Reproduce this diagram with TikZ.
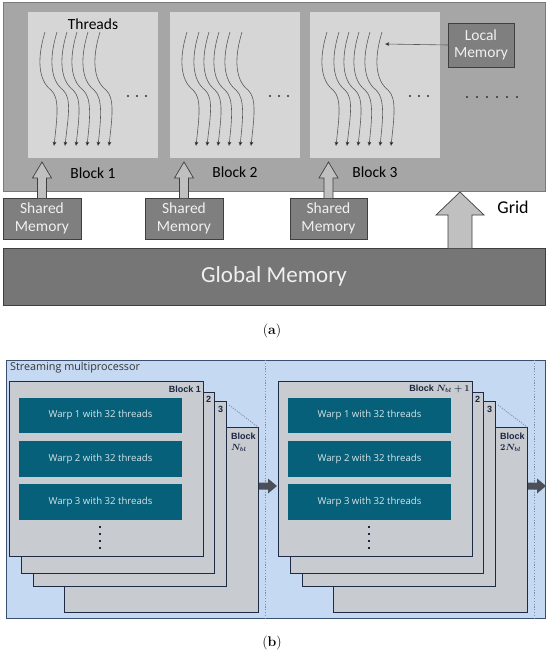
\documentclass[tikz,border=0pt]{standalone}
\usepackage{fontspec}
\usepackage{bm}
\usetikzlibrary{arrows.meta}
\newfontfamily\carl{Carlito}
\newfontfamily\osans{Open Sans}
\newfontfamily\arialf{Liberation Sans}
\definecolor{gridfill}{HTML}{A6A6A6}
\definecolor{gridline}{HTML}{7A7A7A}
\definecolor{blockfill}{HTML}{D6D6D6}
\definecolor{memfill}{HTML}{7F7F7F}
\definecolor{memline}{HTML}{3F3F3F}
\definecolor{globfill}{HTML}{767676}
\definecolor{arrfill}{HTML}{C0C0C0}
\definecolor{threadc}{HTML}{5A5A5A}
\definecolor{memtext}{HTML}{F0F0F0}
\definecolor{smbg}{HTML}{C6D9F3}
\definecolor{smline}{HTML}{3A5070}
\definecolor{blkfill}{HTML}{C8CBD0}
\definecolor{blkline}{HTML}{1E2B45}
\definecolor{warpfill}{HTML}{06607A}
\definecolor{warptext}{HTML}{D8E4E8}
\definecolor{navy}{HTML}{1A2540}
\definecolor{dotline}{HTML}{8090A8}
\definecolor{flowarr}{HTML}{4B5058}
\begin{document}
\begin{tikzpicture}[x=1pt,y=-1pt,
  box/.style={inner sep=0pt, outer sep=0pt, anchor=north west},
  gridbox/.style={box, fill=gridfill, draw=gridline, line width=1pt},
  blockbox/.style={box, fill=blockfill},
  membox/.style={box, fill=memfill, draw=memline, line width=0.8pt, text=memtext, align=center, font=\carl\fontsize{15.5}{17.5}\selectfont},
  lbl/.style={font=\carl\fontsize{15.5}{17}\selectfont, text=black, inner sep=0pt},
  threadline/.style={draw=threadc, line width=0.6pt, -{Triangle[length=4pt,width=3.6pt,fill=black]}},
  harrow/.style={fill=arrfill, draw=memline, line width=0.7pt, line join=miter},
  smbox/.style={box, fill=smbg, draw=smline, line width=0.8pt},
  blk/.style={box, fill=blkfill, draw=blkline, line width=1pt},
  warp/.style={box, fill=warpfill, text=warptext, font=\osans\fontsize{9.6}{11}\selectfont},
  blab/.style={font=\arialf\bfseries\fontsize{9}{10}\selectfont, text=navy, inner sep=0pt},
  flow/.style={fill=flowarr, draw=none},
  vdots/.style={draw=dotline, line width=0.8pt, dash pattern=on 1.2pt off 1.6pt}
]
\useasboundingbox (0,0) rectangle (550,655);

% ================= (a) =================
\node[gridbox, minimum width=542pt, minimum height=188pt] (grid) at (3,3) {};
\node[blockbox, minimum width=130pt, minimum height=146pt] (ba1) at (28,12) {};
\node[blockbox, minimum width=130pt, minimum height=146pt] (ba2) at (170,12) {};
\node[blockbox, minimum width=130pt, minimum height=146pt] (ba3) at (310,12) {};

\node[lbl] (threads) at (93,24) {Threads};
\foreach \L in {28,170,310}{
  \foreach \s/\e in {17/26,29/37,39/48,49/59,60/70,72/81}{
    \draw[threadline] (\L+\s,32) .. controls (\L+\s-8,58) and (\L+\s-7,80) .. (\L+\s+6,90)
       .. controls (\L+\s+15,98) and (\L+\e+3,118) .. (\L+\e,146);
  }
  \foreach \d in {100,109,118}{
    \fill[black!80] (\L+\d,96) circle (1.2pt);
  }
}
\foreach \d in {467,477,487,497,507,517}{
  \fill[black!80] (\d,97) circle (1.2pt);
}

\node[lbl] (lb1) at (93,173) {Block 1};
\node[lbl] (lb2) at (235,172) {Block 2};
\node[lbl] (lb3) at (375,172) {Block 3};

\node[membox, minimum width=66pt, minimum height=44pt] (local) at (448,23) {Local\\Memory};
\coordinate (lmtip) at (385,44);
\draw[draw=threadc, line width=0.6pt, -{Triangle[length=4pt,width=3.6pt,fill=black]}] (local.west) -- (lmtip);

\node[membox, minimum width=78pt, minimum height=41pt] (sm1) at (3,198) {Shared\\Memory};
\node[membox, minimum width=78pt, minimum height=41pt] (sm2) at (145,198) {Shared\\Memory};
\node[membox, minimum width=77pt, minimum height=41pt] (sm3) at (290,198) {Shared\\Memory};

\foreach \n in {sm1,sm2,sm3}{
  \begin{scope}[shift={(\n.north)}]
    \draw[harrow] (-4.5,0) -- (-4.5,-20) -- (-9.5,-20) -- (0,-36) -- (9.5,-20) -- (4.5,-20) -- (4.5,0);
  \end{scope}
}

\node[box, fill=globfill, draw=memline, line width=0.8pt, minimum width=542pt, minimum height=57pt,
      text=memtext, font=\carl\fontsize{23}{26}\selectfont] (glob) at (3,248) {Global Memory};
\coordinate (gridbase) at (460,248);
\begin{scope}[shift={(gridbase)}]
  \draw[harrow] (-12,0) -- (-12,-33) -- (-24,-33) -- (0,-56) -- (24,-33) -- (12,-33) -- (12,0);
\end{scope}
\node[lbl, font=\carl\fontsize{18}{20}\selectfont] (gridlbl) at (513,207) {Grid};

\node[font=\fontsize{14}{16}\selectfont, inner sep=0pt] (capa) at (272,331) {(\textbf{a})};

% ================= (b) =================
\node[smbox, minimum width=539pt, minimum height=258pt] (sm) at (6,360) {};
\node[anchor=west, inner sep=0pt, font=\osans\fontsize{10.8}{12}\selectfont, text=black!80] (smlbl) at (10,368) {Streaming multiprocessor};

\foreach \o/\g in {0/1,269/2}{
  \node[blk, minimum width=194pt, minimum height=185pt] (bn\g) at (64+\o,427) {};
  \node[blk, minimum width=193pt, minimum height=185pt] (bt\g) at (33+\o,401) {};
  \node[blk, minimum width=193pt, minimum height=181pt] (bs\g) at (21+\o,392) {};
  \node[blk, minimum width=194pt, minimum height=175pt] (bf\g) at (9+\o,381) {};
  \node[warp, minimum width=163pt, minimum height=35pt] (w1\g) at (19+\o,398) {Warp 1 with 32 threads};
  \node[warp, minimum width=163pt, minimum height=36pt] (w2\g) at (19+\o,441) {Warp 2 with 32 threads};
  \node[warp, minimum width=163pt, minimum height=36pt] (w3\g) at (19+\o,484) {Warp 3 with 32 threads};
  \foreach \y in {527,534,541,548}{
    \fill[navy] (100+\o-1.3,\y-1.3) rectangle (100+\o+1.3,\y+1.3);
  }
  \node[blab] (l2\g) at (208.5+\o,399) {2};
  \node[blab] (l3\g) at (220.5+\o,409) {3};
  \coordinate (dg\g) at (229+\o,405);
  \draw[dotline, line width=0.8pt, dash pattern=on 1.2pt off 1.2pt] (dg\g) -- (bn\g.north east);
  \coordinate (vt\g) at (265+\o,360);
  \coordinate (vb\g) at (265+\o,618);
  \draw[vdots] (vt\g) -- (vb\g);
  \begin{scope}[shift={(259+\o,486)}]
    \fill[flow] (0,-3.5) -- (9,-3.5) -- (9,-7.5) -- (18,0) -- (9,7.5) -- (9,3.5) -- (0,3.5) -- cycle;
  \end{scope}
}
\node[blab, anchor=east] (lf1) at (201,389) {Block 1};
\node[blab, anchor=west] (ln1a) at (231,436) {Block};
\node[blab, anchor=west] (ln1b) at (231,448) {$\bm{N_{bl}}$};
\node[blab, anchor=east] (lf2) at (470,389) {Block $\bm{N_{bl}+1}$};
\node[blab, anchor=west] (ln2a) at (500,436) {Block};
\node[blab, anchor=west] (ln2b) at (500,448) {$\bm{2N_{bl}}$};

\node[font=\fontsize{14}{16}\selectfont, inner sep=0pt] (capb) at (272,643) {(\textbf{b})};
\end{tikzpicture}
\end{document}
